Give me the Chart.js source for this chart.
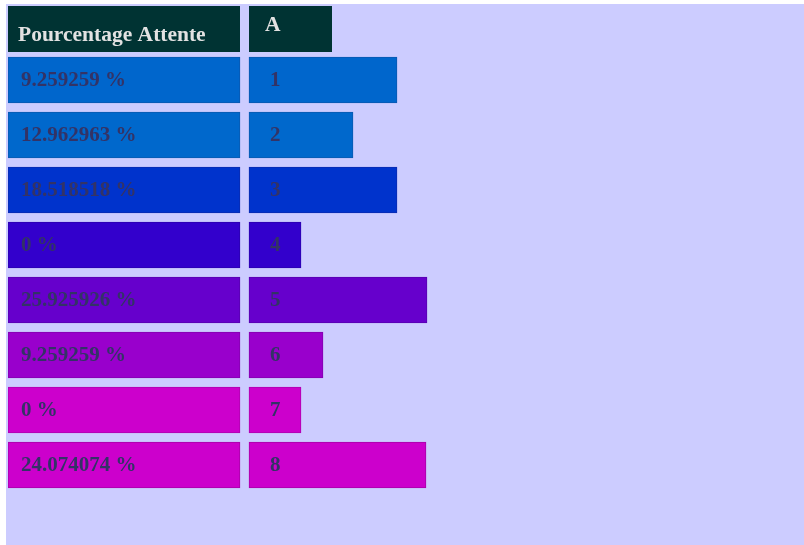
<!DOCTYPE html>
<html>
<head>
<meta charset="utf-8">
<script src="https://cdn.jsdelivr.net/npm/chart.js@4"></script>
<style>
  html, body { margin: 0; padding: 0; background: #ffffff; }
  #bg { position: absolute; left: 6px; top: 4px; width: 798px; height: 541px; background: #ccccff; }
  #wrap { position: absolute; left: 0; top: 0; width: 804px; height: 545px; }
</style>
</head>
<body>
<div id="bg"></div>
<div id="wrap"><canvas id="c" width="804" height="545"></canvas></div>
<script>
// ---- data ----
const headerLabels = ["Pourcentage Attente", "A"];
const categories = ["1", "2", "3", "4", "5", "6", "7", "8"];
const percentLabels = ["9.259259 %", "12.962963 %", "18.518518 %", "0 %", "25.925926 %", "9.259259 %", "0 %", "24.074074 %"];
const barA = [148, 104, 148, 52, 178, 74, 52, 177];
const headerBarA = 83;

// ---- styles ----
const rowColors = ["#0066cc", "#0068cc", "#0033cc", "#3300cc", "#6600cc", "#9900cc", "#cc00cc", "#cc00cc"];
const rowBorders = ["#0a58b0", "#0a5ab0", "#0a2cb0", "#2c00b0", "#5800b0", "#8500b0", "#b000b0", "#a800a8"];
const firstColWidth = 232;
const gapWidth = 9;
const headerColor = "#003333";
const headerTextColor = "#e2e2e2";
const textColor = "#333366";
const headerFont = "bold 21.5px 'Liberation Serif', 'DejaVu Serif', serif";
const font = "bold 21px 'Liberation Serif', 'DejaVu Serif', serif";

const tablePlugin = {
  id: 'tablePlugin',
  beforeDatasetsDraw(chart) {
    const ctx = chart.ctx;
    const xs = chart.scales.x;
    const x0 = xs.getPixelForValue(0);
    const x1 = xs.getPixelForValue(firstColWidth);
    const x2 = xs.getPixelForValue(firstColWidth + gapWidth);
    const x3 = xs.getPixelForValue(firstColWidth + gapWidth + headerBarA);
    const top = 6, h = 46;
    ctx.save();
    ctx.fillStyle = headerColor;
    ctx.fillRect(x0, top, x1 - x0, h);
    ctx.fillRect(x2, top, x3 - x2, h);
    ctx.fillStyle = headerTextColor;
    ctx.font = headerFont;
    ctx.textBaseline = 'alphabetic';
    ctx.fillText(headerLabels[0], x0 + 10, 41);
    ctx.fillText(headerLabels[1], x2 + 16, 31);
    ctx.restore();
  },
  afterDatasetsDraw(chart) {
    const ctx = chart.ctx;
    const xs = chart.scales.x;
    const meta = chart.getDatasetMeta(0);
    const x0 = xs.getPixelForValue(0);
    const x2 = xs.getPixelForValue(firstColWidth + gapWidth);
    ctx.save();
    ctx.fillStyle = textColor;
    ctx.font = font;
    ctx.textBaseline = 'middle';
    meta.data.forEach((bar, i) => {
      ctx.fillText(percentLabels[i], x0 + 13, bar.y + 1);
      ctx.fillText(categories[i], x2 + 21, bar.y + 1);
    });
    ctx.restore();
  }
};

new Chart(document.getElementById('c'), {
  type: 'bar',
  data: {
    labels: categories,
    datasets: [
      {
        label: headerLabels[0],
        data: categories.map(() => firstColWidth),
        backgroundColor: rowColors,
        borderColor: rowBorders,
        borderWidth: 1,
        borderSkipped: false,
        barThickness: 46
      },
      {
        label: 'gap',
        data: categories.map(() => gapWidth),
        backgroundColor: 'rgba(0,0,0,0)',
        borderWidth: 0,
        barThickness: 46
      },
      {
        label: headerLabels[1],
        data: barA,
        backgroundColor: rowColors,
        borderColor: rowBorders,
        borderWidth: 1,
        borderSkipped: false,
        barThickness: 46
      }
    ]
  },
  options: {
    indexAxis: 'y',
    responsive: false,
    animation: false,
    layout: { padding: { left: 8, right: 0, top: 52.5, bottom: 52.5 } },
    scales: {
      x: { stacked: true, min: 0, max: 796, display: false },
      y: { stacked: true, display: false }
    },
    plugins: {
      legend: { display: false },
      tooltip: { enabled: false }
    }
  },
  plugins: [tablePlugin]
});
</script>
</body>
</html>
